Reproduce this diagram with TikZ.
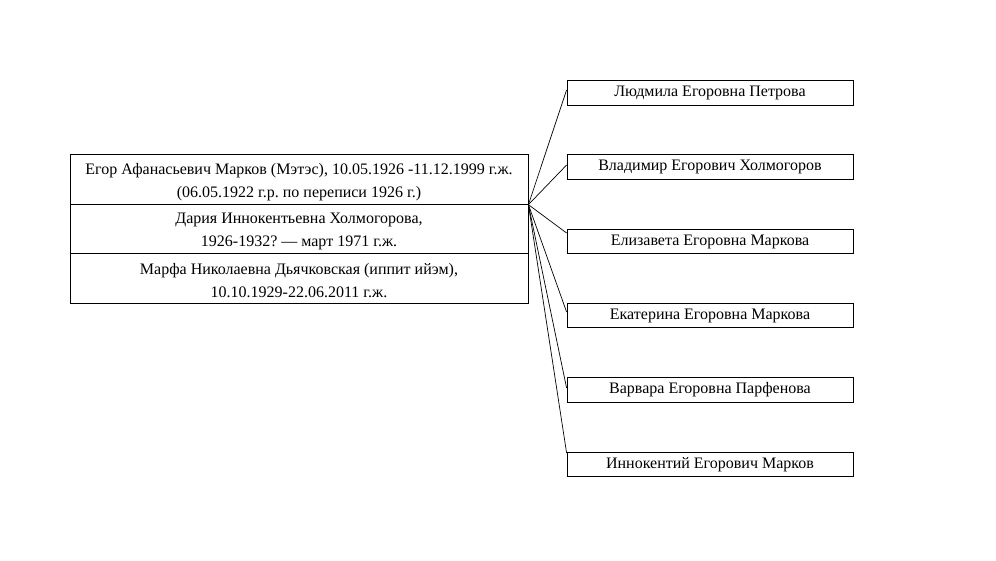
\documentclass[tikz,border=0pt]{standalone}
\usepackage{fontspec}
\setmainfont{Liberation Serif}
\frenchspacing
\begin{document}
\begin{tikzpicture}[x=1pt,y=-1pt,
  rowframe/.style={draw, line width=0.8pt, inner sep=0pt, minimum width=458pt, minimum height=49.5pt},
  rowtext/.style={inner sep=0pt, align=center, font=\fontsize{16}{23}\selectfont},
  child/.style={draw, line width=0.8pt, inner sep=0pt, align=center, minimum width=286pt, minimum height=24.5pt, font=\fontsize{16}{21}\selectfont},
  link/.style={draw, line width=0.7pt}]
\useasboundingbox (0,0) rectangle (996,560);
\node[rowframe] (r1) at (299,179.5) {};
\node[rowframe] (r2) at (299,229) {};
\node[rowframe] (r3) at (299,278.5) {};
\node[rowtext] (t1) at ([yshift=-2.5pt]r1.center) {Егор Афанасьевич Марков (Мэтэс), 10.05.1926 -11.12.1999 г.ж.\\(06.05.1922 г.р. по переписи 1926 г.)};
\node[rowtext] (t2) at ([yshift=-2.5pt]r2.center) {Дария Иннокентьевна Холмогорова,\\1926-1932? — март 1971 г.ж.};
\node[rowtext] (t3) at ([yshift=-2.5pt]r3.center) {Марфа Николаевна Дьячковская (иппит ийэм),\\10.10.1929-22.06.2011 г.ж.};
\node[child] (c1) at (710,93) {Людмила Егоровна Петрова};
\node[child] (c2) at (710,167) {Владимир Егорович Холмогоров};
\node[child] (c3) at (710,241.5) {Елизавета Егоровна Маркова};
\node[child] (c4) at (710,315.5) {Екатерина Егоровна Маркова};
\node[child] (c5) at (710,390) {Варвара Егоровна Парфенова};
\node[child] (c6) at (710,464.5) {Иннокентий Егорович Марков};
\coordinate (src) at (r1.south east);
\draw[link] (src) -- ([yshift=3pt]c1.west);
\draw[link] (src) -- ([yshift=2pt]c2.west);
\draw[link] (src) -- ([yshift=8.5pt]c3.west);
\draw[link] (src) -- ([yshift=3.5pt]c4.west);
\draw[link] (src) -- ([yshift=2pt]c5.west);
\draw[link] (src) -- ([yshift=11.5pt]c6.west);
\end{tikzpicture}
\end{document}
